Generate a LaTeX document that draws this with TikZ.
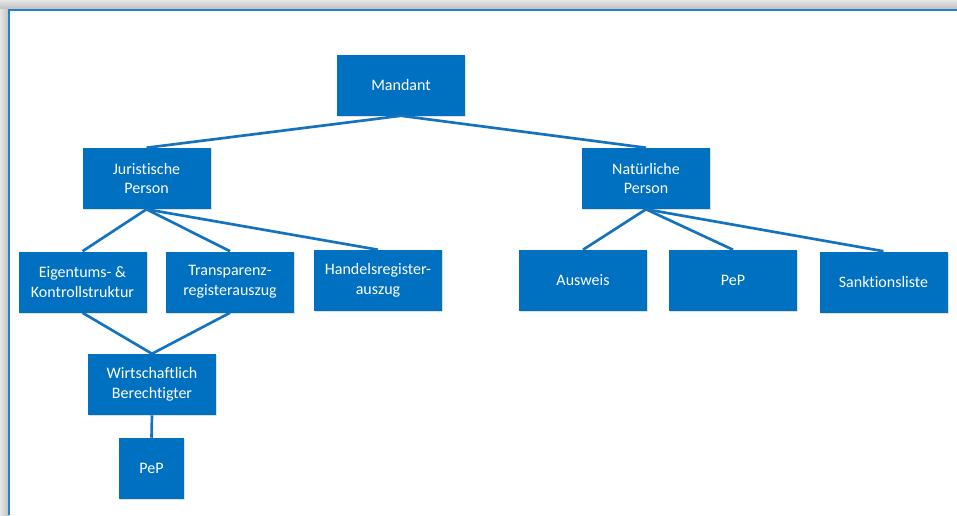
\documentclass[tikz,border=0pt]{standalone}
\usepackage{fontspec}
\setmainfont{Carlito}[Ligatures={NoCommon}]
\usetikzlibrary{shadows}
\definecolor{boxblue}{RGB}{0,112,192}
\definecolor{lineblue}{RGB}{20,115,190}
\definecolor{frameblue}{RGB}{30,130,205}
\tikzset{
  box/.style={fill=boxblue, text=white, align=center, inner sep=0pt,
    minimum width=96pt, minimum height=45.75pt,
    font=\fontsize{12}{14.8}\selectfont,
    drop shadow={opacity=0.25, shadow xshift=0.8pt, shadow yshift=-0.8pt}},
  link/.style={draw=lineblue, line width=2pt}
}
\begin{document}
\begin{tikzpicture}[x=0.75pt,y=-0.75pt]
    \useasboundingbox (0,0) rectangle (957,515);
    % frame
    \fill[white] (0,0) rectangle (957,515);
    \shade[top color=gray!20, bottom color=gray!50] (0,0) rectangle (957,9);
    \shade[left color=gray!20, right color=gray!50] (0,9) rectangle (9,515);
    \draw[frameblue, line width=1.5pt] (9,515)--(9,9.5)--(957,9.5);
    % boxes
    \node[box] (mandant) at (401,85) {Mandant};
    \node[box] (jur) at (146.5,178.5) {Juristische\\Person};
    \node[box] (nat) at (646,178.5) {Natürliche\\Person};
    \node[box] (eigen) at (82.5,282) {Eigentums- \&\\Kontrollstruktur};
    \node[box] (transp) at (230,282) {Transparenz-\\registerauszug};
    \node[box] (hreg) at (378,280.5) {Handelsregister-\\auszug};
    \node[box] (ausweis) at (583,280.5) {Ausweis};
    \node[box] (pepnat) at (733,280.5) {PeP};
    \node[box] (sankt) at (883.5,282) {Sanktionsliste};
    \node[box] (wb) at (152,384.5) {Wirtschaftlich\\Berechtigter};
    \node[box, minimum width=48.75pt] (pepwb) at (151.5,468.5) {PeP};
    % lines
    \draw[link] (mandant.south) -- (jur.north);
    \draw[link] (mandant.south) -- (nat.north);
    \foreach \c in {eigen,transp,hreg}
    \draw[link] (jur.south) -- (\c.north);
    \foreach \c in {ausweis,pepnat,sankt}
    \draw[link] (nat.south) -- (\c.north);
    \draw[link] (eigen.south) -- (wb.north);
    \draw[link] (transp.south) -- (wb.north);
    \draw[link] (wb.south) -- (pepwb.north);
\end{tikzpicture}
\end{document}
